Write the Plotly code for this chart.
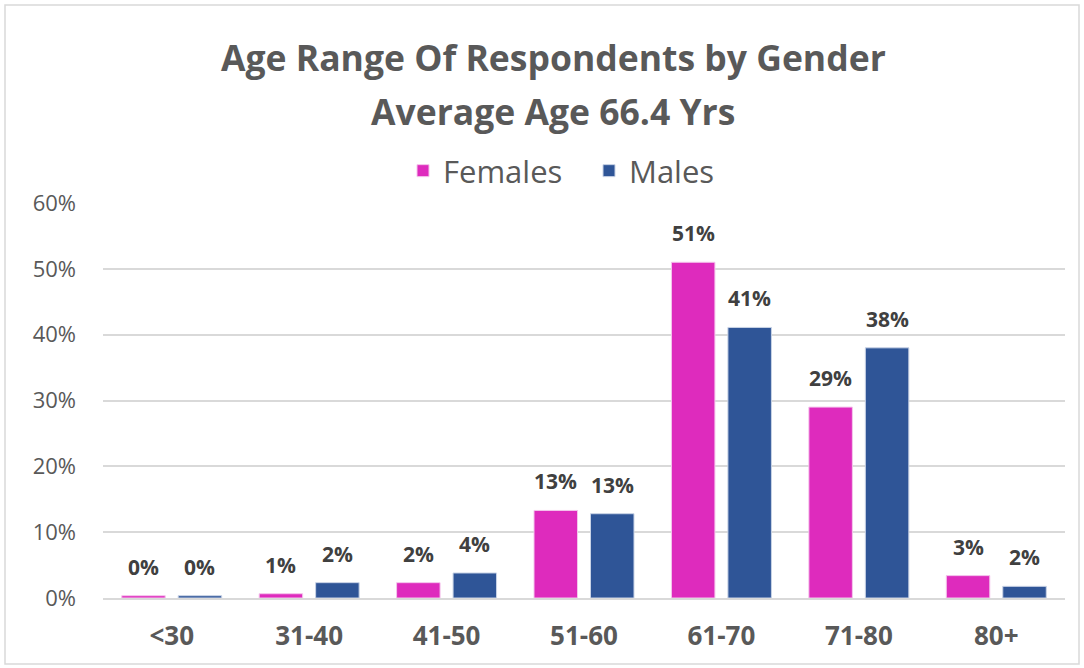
import plotly.graph_objects as go

categories = ["<30", "31-40", "41-50", "51-60", "61-70", "71-80", "80+"]
females = [0.0035, 0.0065, 0.0233, 0.133, 0.510, 0.290, 0.034]
males = [0.0035, 0.0233, 0.038, 0.128, 0.411, 0.380, 0.0177]
title_line1 = "Age Range Of Respondents by Gender"
title_line2 = "Average Age 66.4 Yrs"

W, H = 1084, 668
ml, mr, mt, mb = 103, 19, 203, 70
pw, ph = W - ml - mr, H - mt - mb

FONT = "Open Sans, Lato, sans-serif"
PINK = "#DE2BBD"
BLUE = "#2F5597"

fig = go.Figure()
series = [("Females", females, PINK, "#F4C6EC", -28.25),
          ("Males", males, BLUE, "#C9D3E6", 28.25)]
annotations = []
for name, vals, col, edge, shift in series:
    fig.add_trace(go.Bar(
        name=name, x=categories, y=vals, marker_color=col,
        marker_line=dict(color=edge, width=1),
        hoverinfo="x+y+name",
    ))
    for c, v in zip(categories, vals):
        annotations.append(dict(
            x=c, y=v, xref="x", yref="y", text=f"{v:.0%}", showarrow=False,
            xshift=shift, yshift=29, xanchor="center", yanchor="middle",
            font=dict(family=FONT, size=21, color="#404040", weight="bold")))

def px_x(x):
    return (x - ml) / pw

def px_y(y):
    return (H - mb - y) / ph

annotations += [
    dict(text=title_line1, xref="paper", yref="paper", x=px_x(553), y=px_y(57),
         xanchor="center", yanchor="middle", showarrow=False,
         font=dict(family=FONT, size=35.5, color="#595959", weight="bold")),
    dict(text=title_line2, xref="paper", yref="paper", x=px_x(553), y=px_y(111),
         xanchor="center", yanchor="middle", showarrow=False,
         font=dict(family=FONT, size=35.5, color="#595959", weight="bold")),
]

fig.update_layout(
    width=W, height=H,
    margin=dict(l=ml, r=mr, t=mt, b=mb, autoexpand=False),
    paper_bgcolor="white", plot_bgcolor="white",
    barmode="group", bargap=0.178, bargroupgap=0.23,
    showlegend=True,
    legend=dict(orientation="h", x=px_x(403), xanchor="left",
                y=px_y(171), yanchor="middle",
                font=dict(family=FONT, size=31, color="#595959"),
                entrywidth=141, traceorder="normal"),
    yaxis=dict(range=[0, 0.6], dtick=0.1, tickformat=".0%",
               showgrid=True, gridcolor="#D9D9D9", gridwidth=1.5,
               zeroline=False, showline=False, ticks="",
               ticklabelstandoff=26,
               tickfont=dict(family=FONT, size=22, color="#595959")),
    xaxis=dict(showline=True, linecolor="#D9D9D9", linewidth=1.5,
               ticks="", ticklabelstandoff=14,
               tickfont=dict(family=FONT, size=26, color="#595959", weight="bold")),
    annotations=annotations,
    shapes=[dict(type="rect", xref="paper", yref="paper",
                 x0=px_x(5), x1=px_x(1079), y0=px_y(664), y1=px_y(5),
                 line=dict(color="#D9D9D9", width=1.5), layer="below")],
)

fig.write_html("out.html", config={"displayModeBar": False},
               post_script="document.body.style.margin='0';document.body.style.overflow='hidden';")
